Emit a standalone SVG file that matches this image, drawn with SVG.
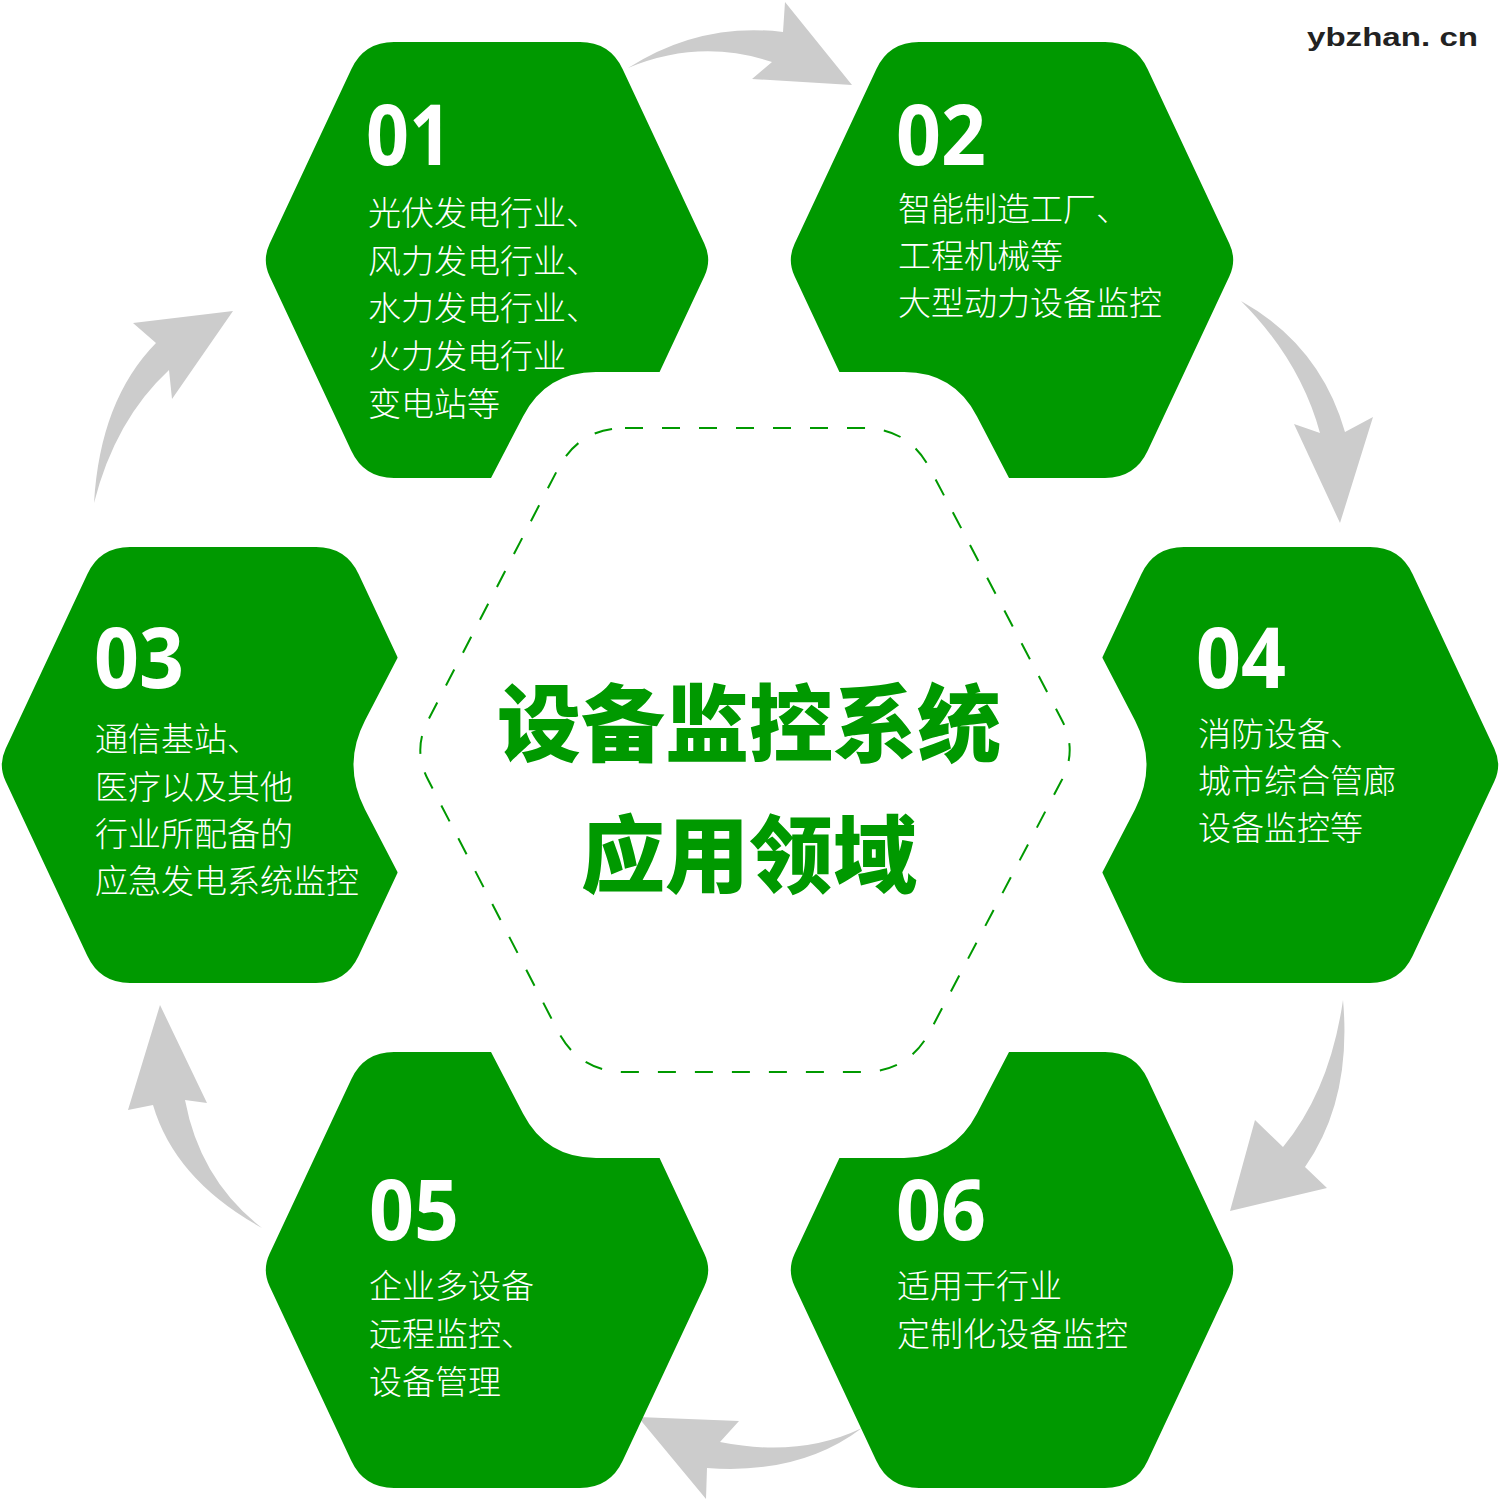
<svg xmlns="http://www.w3.org/2000/svg" xmlns:xlink="http://www.w3.org/1999/xlink" width="1500" height="1500" viewBox="0 0 1500 1500">
<style>
.hex{fill:#009900}
.num{font-family:"Open Sans","Liberation Sans",sans-serif;font-weight:700;font-size:84px;fill:#ffffff}
.txt{font-family:"Noto Sans CJK SC","Noto Sans",sans-serif;font-weight:300;font-size:33px;fill:#ffffff}
.title{font-family:"Noto Sans CJK SC","Noto Sans",sans-serif;font-weight:900;font-size:84px;fill:#009900;text-anchor:middle}
.arrow{fill:#cccccc}
.dash{fill:none;stroke:#009900;stroke-width:2;stroke-dasharray:18 19}
.wm{font-family:"Liberation Sans",Arial,sans-serif;font-weight:700;font-size:26px;fill:#222222}
</style>
<defs>
<path id="hexShape" d="M -93,-218 L 93,-218 Q 123,-218 135.7,-190.8 L 217.4,-16.3 Q 225,0 217.4,16.3 L 135.7,190.8 Q 123,218 93,218 L -93,218 Q -123,218 -135.7,190.8 L -217.4,16.3 Q -225,0 -217.4,-16.3 L -135.7,-190.8 Q -123,-218 -93,-218 Z"/>
</defs>
<rect width="1500" height="1500" fill="#ffffff"/>
<g id="connectors">
<path class="arrow" d="M628,68 Q700,22 783,32 L785,2 L852,85 L752,79 L772,62 Q700,38 628,68 Z"/>
<path class="arrow" d="M1241,301 Q1320,345 1345,432 L1373,417 L1340,523 L1294,424 L1320,433 Q1300,360 1241,301 Z"/>
<path class="arrow" d="M1343,1000 Q1352,1100 1305,1167 L1327,1188 L1230,1211 L1255,1120 L1283,1147 Q1330,1090 1343,1000 Z"/>
<path class="arrow" d="M862,1428 Q800,1458 720,1442 L739,1421 L638,1417 L706,1499 L707,1468 Q800,1475 862,1428 Z"/>
<path class="arrow" d="M262,1228 Q175,1180 153,1105 L128,1110 L160,1005 L207,1103 L185,1100 Q200,1180 262,1228 Z"/>
<path class="arrow" d="M94,503 Q100,400 156,343 L133,323 L233,311 L172,399 L169,370 Q115,420 94,503 Z"/>
</g>
<g id="node01">
<use href="#hexShape" xlink:href="#hexShape" class="hex" transform="translate(487,260)"/>
<text class="num" x="366" y="165" textLength="86" lengthAdjust="spacingAndGlyphs">01</text>
<text class="txt" x="368" y="225">光伏发电行业、</text>
<text class="txt" x="368" y="273">风力发电行业、</text>
<text class="txt" x="368" y="320">水力发电行业、</text>
<text class="txt" x="368" y="368">火力发电行业</text>
<text class="txt" x="368" y="416">变电站等</text>
</g>
<g id="node02">
<use href="#hexShape" xlink:href="#hexShape" class="hex" transform="translate(1012,260)"/>
<text class="num" x="896" y="165" textLength="90" lengthAdjust="spacingAndGlyphs">02</text>
<text class="txt" x="898" y="221">智能制造工厂、</text>
<text class="txt" x="898" y="268">工程机械等</text>
<text class="txt" x="898" y="315">大型动力设备监控</text>
</g>
<g id="node03">
<use href="#hexShape" xlink:href="#hexShape" class="hex" transform="translate(223,765)"/>
<text class="num" x="94" y="688" textLength="90" lengthAdjust="spacingAndGlyphs">03</text>
<text class="txt" x="95" y="751">通信基站、</text>
<text class="txt" x="95" y="799">医疗以及其他</text>
<text class="txt" x="95" y="846">行业所配备的</text>
<text class="txt" x="95" y="893">应急发电系统监控</text>
</g>
<g id="node04">
<use href="#hexShape" xlink:href="#hexShape" class="hex" transform="translate(1277,765)"/>
<text class="num" x="1196" y="688" textLength="90" lengthAdjust="spacingAndGlyphs">04</text>
<text class="txt" x="1198" y="746">消防设备、</text>
<text class="txt" x="1198" y="793">城市综合管廊</text>
<text class="txt" x="1198" y="840">设备监控等</text>
</g>
<g id="node05">
<use href="#hexShape" xlink:href="#hexShape" class="hex" transform="translate(487,1270)"/>
<text class="num" x="369" y="1240" textLength="90" lengthAdjust="spacingAndGlyphs">05</text>
<text class="txt" x="369" y="1298">企业多设备</text>
<text class="txt" x="369" y="1346">远程监控、</text>
<text class="txt" x="369" y="1394">设备管理</text>
</g>
<g id="node06">
<use href="#hexShape" xlink:href="#hexShape" class="hex" transform="translate(1012,1270)"/>
<text class="num" x="896" y="1240" textLength="90" lengthAdjust="spacingAndGlyphs">06</text>
<text class="txt" x="897" y="1298">适用于行业</text>
<text class="txt" x="897" y="1346">定制化设备监控</text>
</g>
<g id="center">
<path fill="#ffffff" d="M596,372 L904,372 Q954,372 977,416.4 L1135,720.6 Q1158,765 1135,809.4 L977,1113.6 Q954,1158 904,1158 L596,1158 Q546,1158 523,1113.6 L365,809.4 Q342,765 365,720.6 L523,416.4 Q546,372 596,372 Z"/>
<path class="dash" d="M625,428 L863,428 Q908,428 929.4,467.6 L1061.4,719.2 Q1078,750 1061.4,780.8 L929.4,1032.4 Q908,1072 863,1072 L625,1072 Q580,1072 558.6,1032.4 L428.6,780.8 Q412,750 428.6,719.2 L558.6,467.6 Q580,428 625,428 Z"/>
<text class="title" x="749" y="755">设备监控系统</text>
<text class="title" x="749" y="886">应用领域</text>
</g>
<text class="wm" x="1307" y="46" textLength="171" lengthAdjust="spacingAndGlyphs">ybzhan. cn</text>
</svg>
